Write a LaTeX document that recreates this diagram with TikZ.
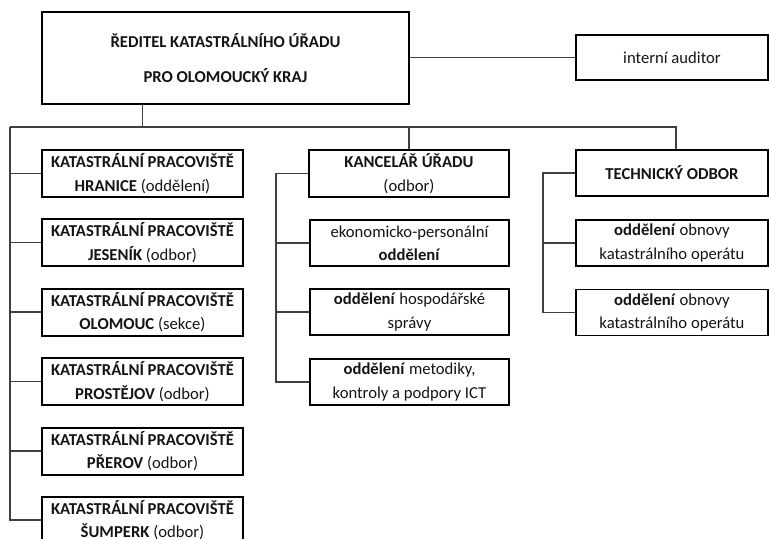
\documentclass[tikz,border=0pt]{standalone}
\usepackage{fontspec}
\setmainfont{Carlito}
\definecolor{linegray}{HTML}{404040}
\definecolor{textgray}{HTML}{141414}
\tikzset{
  basebox/.style={draw=black, align=center, inner sep=0pt, text=textgray, font=\fontsize{12.5}{17.5}\selectfont},
  mainbox/.style={basebox, line width=1.5pt},
  subbox/.style={basebox, line width=1pt},
  conn/.style={draw=linegray, line width=0.9pt},
}
\begin{document}
\begin{tikzpicture}[x=0.75pt, y=-0.75pt]
            \useasboundingbox (0,0) rectangle (769,539);

            \node[mainbox, minimum width=275.25pt, minimum height=69pt] (dir) at (225.5,58)
                {\textbf{ŘEDITEL KATASTRÁLNÍHO ÚŘADU}\\[8.5pt]\textbf{PRO OLOMOUCKÝ KRAJ}};
            \node[subbox, line width=1.5pt, minimum width=144pt, minimum height=33.75pt] (aud) at (672,57.5) {interní auditor};

            \node[mainbox, minimum width=150.75pt, minimum height=35.25pt] (hra) at (142.5,173.5)
                {\textbf{KATASTRÁLNÍ PRACOVIŠTĚ}\\\textbf{HRANICE} (oddělení)};
            \node[mainbox, minimum width=150.75pt, minimum height=35.25pt] (jes) at (142.5,242.5)
                {\textbf{KATASTRÁLNÍ PRACOVIŠTĚ}\\\textbf{JESENÍK} (odbor)};
            \node[mainbox, minimum width=150.75pt, minimum height=35.25pt] (olo) at (142.5,312)
                {\textbf{KATASTRÁLNÍ PRACOVIŠTĚ}\\\textbf{OLOMOUC} (sekce)};
            \node[mainbox, minimum width=150.75pt, minimum height=35.25pt] (pro) at (142.5,381.5)
                {\textbf{KATASTRÁLNÍ PRACOVIŠTĚ}\\\textbf{PROSTĚJOV} (odbor)};
            \node[mainbox, minimum width=150.75pt, minimum height=35.25pt] (pre) at (142.5,451)
                {\textbf{KATASTRÁLNÍ PRACOVIŠTĚ}\\\textbf{PŘEROV} (odbor)};
            \node[mainbox, minimum width=150.75pt, minimum height=35.25pt] (sum) at (142.5,520)
                {\textbf{KATASTRÁLNÍ PRACOVIŠTĚ}\\\textbf{ŠUMPERK} (odbor)};

            \node[mainbox, minimum width=150pt, minimum height=35.25pt] (kanc) at (409,173.5)
                {\textbf{KANCELÁŘ ÚŘADU}\\(odbor)};
            \node[subbox, minimum width=149.25pt, minimum height=34.5pt] (eko) at (409.5,243)
                {ekonomicko-personální\\\textbf{oddělení}};
            \node[subbox, minimum width=149.25pt, minimum height=34.5pt] (hos) at (409.5,312)
                {\textbf{oddělení} hospodářské\\správy};
            \node[subbox, minimum width=149.25pt, minimum height=34.5pt] (ict) at (409.5,382)
                {\textbf{oddělení} metodiky,\\kontroly a podpory ICT};

            \node[mainbox, minimum width=144pt, minimum height=34.5pt] (tech) at (672,173) {\textbf{TECHNICKÝ ODBOR}};
            \node[subbox, minimum width=144pt, minimum height=34.5pt] (obn1) at (672,243)
                {\textbf{oddělení} obnovy\\katastrálního operátu};
            \node[subbox, minimum width=144pt, minimum height=34.5pt] (obn2) at (672,312.5)
                {\textbf{oddělení} obnovy\\katastrálního operátu};

            \coordinate (busL) at (10,127);
            \coordinate (busR) at (676,127);
            \coordinate (kspine) at (276,173.5);
            \coordinate (tspine) at (543,173);

            \draw[conn] (dir.east |- aud.west) -- (aud.west);
            \draw[conn] (dir.south -| hra.north) -- (busL -| hra.north);
            \draw[conn] (busL) -- (busR) -- (busR |- tech.north);
            \draw[conn] (busL -| kanc.north) -- (kanc.north);

            \draw[conn] (busL) -- (busL |- sum.west) -- (sum.west);
            \draw[conn] (busL |- hra.west) -- (hra.west);
            \draw[conn] (busL |- jes.west) -- (jes.west);
            \draw[conn] (busL |- olo.west) -- (olo.west);
            \draw[conn] (busL |- pro.west) -- (pro.west);
            \draw[conn] (busL |- pre.west) -- (pre.west);

            \draw[conn] (kanc.west) -- (kspine) -- (kspine |- ict.west) -- (ict.west);
            \draw[conn] (kspine |- eko.west) -- (eko.west);
            \draw[conn] (kspine |- hos.west) -- (hos.west);

            \draw[conn] (tech.west) -- (tspine) -- (tspine |- obn2.west) -- (obn2.west);
            \draw[conn] (tspine |- obn1.west) -- (obn1.west);
        \end{tikzpicture}
\end{document}
